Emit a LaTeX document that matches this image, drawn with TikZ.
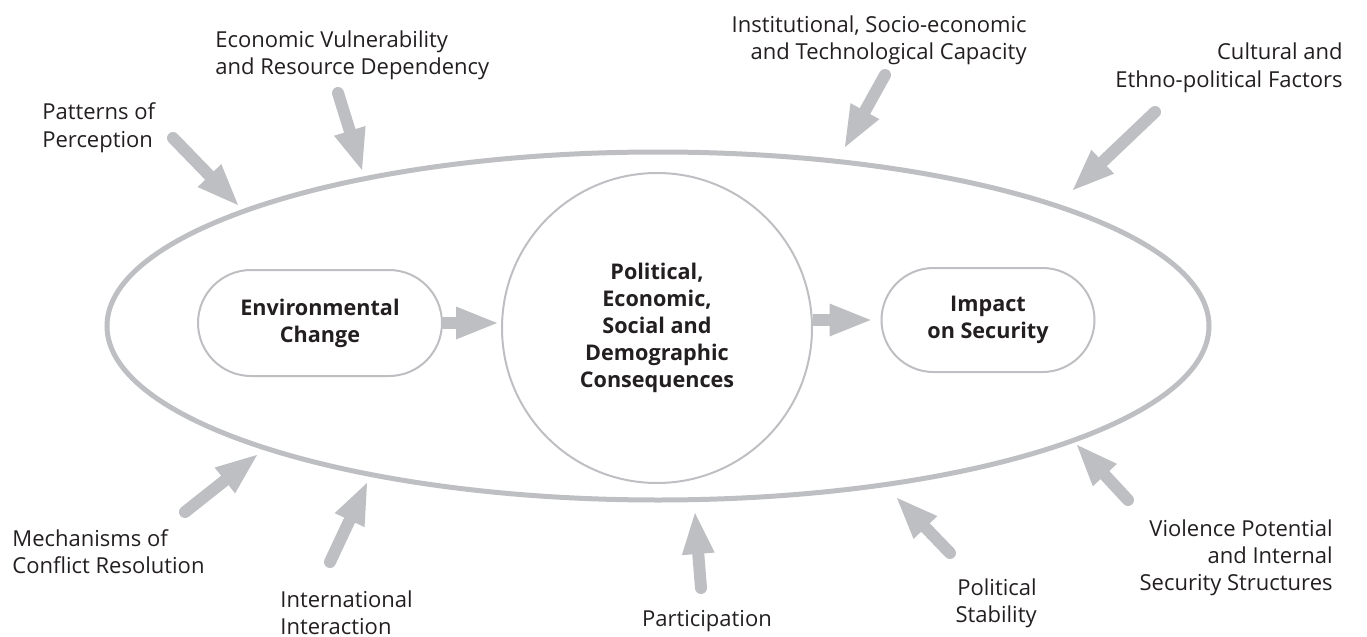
\documentclass[tikz,border=0pt]{standalone}
\usepackage{fontspec}
\setmainfont{Open Sans}
\usepackage{xcolor}
\usepackage{tikz}
\usetikzlibrary{arrows.meta,positioning,shapes.misc}
\definecolor{ringgray}{RGB}{190,191,194}
\definecolor{txtgray}{RGB}{35,31,32}

\begin{document}
\begin{tikzpicture}[x=0.5pt,y=-0.5pt,
  every node/.style={text=txtgray,inner sep=0pt,font=\fontsize{11}{13.5}\selectfont},
  feed/.style={draw=ringgray,line width=6pt,line cap=round,
    -{Triangle[length=20.5pt,width=16.5pt,line width=0pt]}},
  pill/.style={draw=ringgray,line width=1pt,rounded rectangle,align=center,
    font=\bfseries\fontsize{10.8}{13.5}\selectfont}]
\useasboundingbox (0,0) rectangle (1367,637);
% outer ring and the chain
\draw[ringgray,line width=2.5pt] (658,326) ellipse [x radius=551,y radius=174];
\node[pill,minimum width=122pt,minimum height=53pt] (env) at (320,323) {Environmental\\Change};
\node[draw=ringgray,line width=1pt,circle,minimum size=155pt,align=center,
  font=\bfseries\fontsize{10.8}{13.5}\selectfont] (cons) at (657,328)
  {Political,\\Economic,\\Social and\\Demographic\\Consequences\vphantom{l}};
\node[pill,minimum width=106.5pt,minimum height=52pt] (imp) at (988,320) {Impact\\on Security};
\draw[feed,line cap=butt] (env.east) -- ([xshift=-2pt]env.east -| cons.west);
\draw[feed,line cap=butt] (imp.west -| cons.east) -- ([xshift=-5pt]imp.west);
% factors above
\node[anchor=base west,align=left] (pat) at (42,147) {Patterns of\\Perception};
\node[anchor=base west,align=left] (eco) at (215,75) {Economic Vulnerability\\and Resource Dependency};
\node[anchor=base east,align=right] (inst) at (1027,60) {Institutional, Socio-economic\\and Technological Capacity};
\node[anchor=base east,align=right] (cult) at (1343,87) {Cultural and\\Ethno-political Factors};
% factors below
\node[anchor=base west,align=left] (mech) at (12,573) {Mechanisms of\\Conflict Resolution};
\node[anchor=base west,align=left] (intl) at (280,634) {International\\Interaction};
\node[anchor=base] (part) at (707,626) {Participation};
\node[anchor=base east,align=right] (pol) at (1037,622) {Political\\Stability};
\node[anchor=base east,align=right] (viol) at (1333,590) {Violence Potential\\and Internal\\Security Structures};
% arrow ends
\coordinate (pat-t) at (173,138);   \coordinate (pat-h) at (238,205);
\coordinate (eco-t) at (338,93);    \coordinate (eco-h) at (362,170);
\coordinate (inst-t) at (885,75);   \coordinate (inst-h) at (845,147);
\coordinate (cult-t) at (1155,112); \coordinate (cult-h) at (1073,190);
\coordinate (mech-t) at (185,512);  \coordinate (mech-h) at (257,455);
\coordinate (intl-t) at (330,562);  \coordinate (intl-h) at (367,483);
\coordinate (part-t) at (701,588);  \coordinate (part-h) at (695,513);
\coordinate (pol-t) at (950,553);   \coordinate (pol-h) at (897,498);
\coordinate (viol-t) at (1128,500); \coordinate (viol-h) at (1077,445);
\draw[feed] (pat-t) -- (pat-h);
\draw[feed] (eco-t) -- (eco-h);
\draw[feed] (inst-t) -- (inst-h);
\draw[feed] (cult-t) -- (cult-h);
\draw[feed] (mech-t) -- (mech-h);
\draw[feed] (intl-t) -- (intl-h);
\draw[feed] (part-t) -- (part-h);
\draw[feed] (pol-t) -- (pol-h);
\draw[feed] (viol-t) -- (viol-h);
\end{tikzpicture}
\end{document}
